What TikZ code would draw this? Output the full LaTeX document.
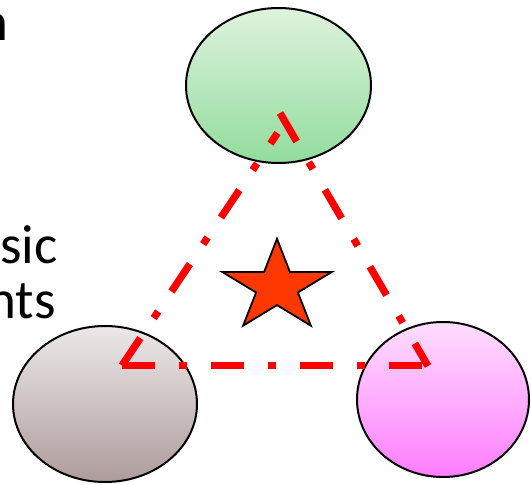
\documentclass[tikz,border=0pt]{standalone}
\usepackage{fontspec}
\setmainfont{Carlito}
\usetikzlibrary{shapes.geometric}
\definecolor{greentop}{RGB}{222,243,222}
\definecolor{greenbot}{RGB}{146,220,156}
\definecolor{browntop}{RGB}{236,232,232}
\definecolor{brownbot}{RGB}{174,156,156}
\definecolor{magtop}{RGB}{255,222,255}
\definecolor{magbot}{RGB}{255,125,255}
\definecolor{starfill}{RGB}{255,55,0}
\tikzset{
  blob/.style={ellipse, draw=black, line width=2pt, inner sep=0pt},
  redline/.style={draw=red, line width=7.3pt, line cap=butt,
    dash pattern=on 33pt off 24pt on 8pt off 24pt},
  starstyle/.style={draw=black, line width=1.8pt, fill=starfill, line join=miter},
  frag/.style={font=\fontsize{55}{60}\selectfont, inner sep=0pt, anchor=base east, text=black}
}
\begin{document}
\begin{tikzpicture}[x=1pt,y=-1pt]
\useasboundingbox (0,0) rectangle (531,485);
% text fragments
\node[frag] (t1) at (9,40) {n};
\node[frag] (t2) at (58,263) {sic};
\node[frag] (t3) at (56,318) {nts};
% ellipses
\node[blob, minimum width=185pt, minimum height=155pt, top color=greentop, bottom color=greenbot] (g) at (278.5,85.5) {};
\node[blob, minimum width=184pt, minimum height=156pt, top color=browntop, bottom color=brownbot] (b) at (105,404) {};
\node[blob, minimum width=172pt, minimum height=155pt, top color=magtop, bottom color=magbot] (m) at (443,399.5) {};
% triangle corners
\coordinate (A) at (122,365.5);
\coordinate (B) at (428,366);
\coordinate (Bh) at (428,365.5);
\coordinate (C) at (280,113);
\coordinate (D) at (277.5,133);
\draw[redline] (C) -- (B);
\draw[redline] (A) -- (Bh);
\draw[redline] (A) -- (D);
% star
\draw[starstyle, shift={(277,286.8)}, xscale=1.2]
  (-90:48) -- (-54:18.3) -- (-18:48) -- (18:18.3) -- (54:48) -- (90:18.3)
  -- (126:48) -- (162:18.3) -- (198:48) -- (234:18.3) -- cycle;
\end{tikzpicture}
\end{document}
